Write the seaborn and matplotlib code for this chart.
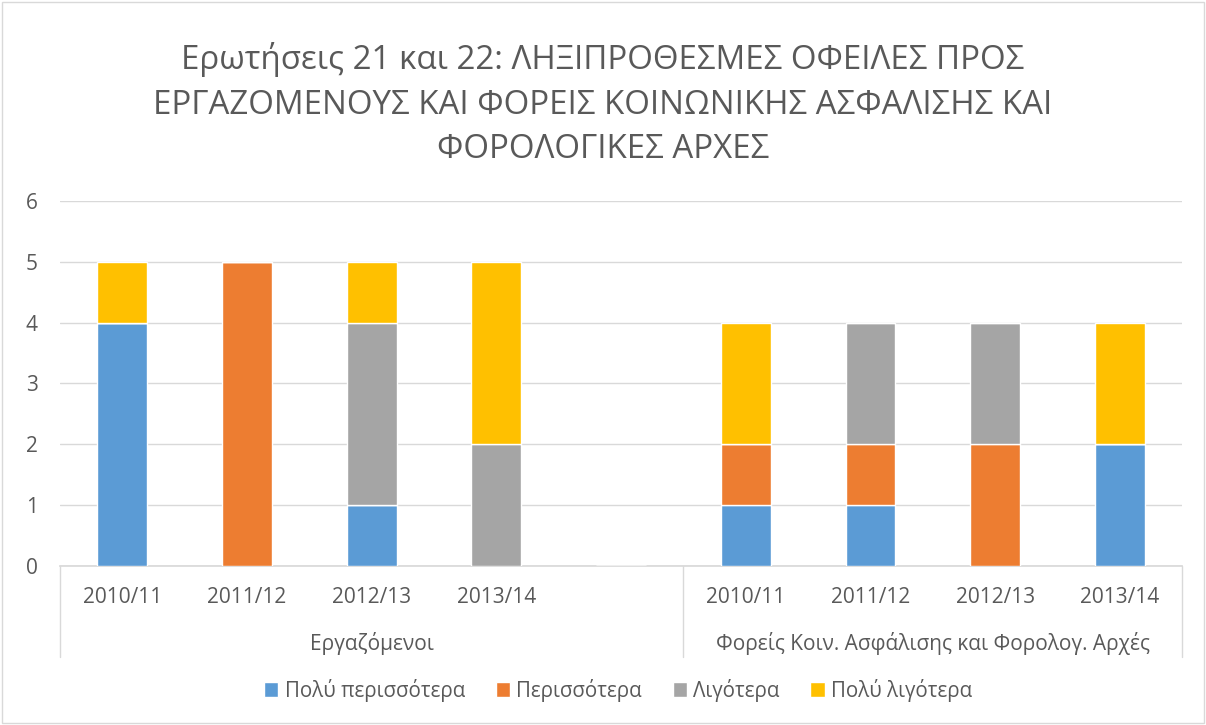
import matplotlib
matplotlib.use('Agg')
import matplotlib.pyplot as plt
import numpy as np
import seaborn as sns
from matplotlib.patches import Rectangle

# data
years = ['2010/11', '2011/12', '2012/13', '2013/14', '',
         '2010/11', '2011/12', '2012/13', '2013/14']
groups = ['Εργαζόμενοι', 'Φορείς Κοιν. Ασφάλισης και Φορολογ. Αρχές']
group_sizes = [5, 4]
series = ['Πολύ περισσότερα', 'Περισσότερα', 'Λιγότερα', 'Πολύ λιγότερα']
poly_perissotera = [4, 0, 1, 0, 0, 1, 1, 0, 2]
perissotera = [0, 5, 0, 0, 0, 1, 1, 2, 0]
ligotera = [0, 0, 3, 2, 0, 0, 2, 2, 0]
poly_ligotera = [1, 0, 1, 3, 0, 2, 0, 0, 2]
colors = ['#5B9BD5', '#ED7D31', '#A5A5A5', '#FFC000']

sns.set_theme(style='white')
plt.rcParams['font.family'] = ['Open Sans', 'DejaVu Sans']
txt = '#595959'
grid = '#D9D9D9'

fig = plt.figure(figsize=(12.06, 7.25), dpi=100)
ax = fig.add_axes([0.0498, 0.2193, 0.9304, 0.5035])

x = np.arange(len(years))
bottom = np.zeros(len(years))
for name, vals, c in zip(series, [poly_perissotera, perissotera, ligotera, poly_ligotera], colors):
    ax.bar(x, vals, 0.4, bottom=bottom, color=c, label=name, zorder=3)
    bottom += np.array(vals)

ax.set_xlim(-0.5, len(years) - 0.5)
ax.set_ylim(0, 6)
ax.set_yticks(range(7))
ax.yaxis.grid(True, color=grid, lw=1, zorder=0)
for s in ['top', 'right', 'left']:
    ax.spines[s].set_visible(False)
ax.spines['bottom'].set_color(grid)
ax.tick_params(axis='y', length=0, labelsize=15, colors=txt, pad=16)
ax.set_xticks(x)
ax.set_xticklabels(years)
ax.tick_params(axis='x', length=0, labelsize=15, colors=txt, pad=15)

# group labels and separators under the axis
edges = np.concatenate([[0], np.cumsum(group_sizes)]) - 0.5
trans = ax.get_xaxis_transform()
for e in edges:
    ax.plot([e, e], [0, -0.25], transform=trans, color=grid, lw=1, clip_on=False)
for g, a, b in zip(groups, edges[:-1], edges[1:]):
    ax.text((a + b) / 2, -0.211, g, transform=trans, ha='center', va='center',
            fontsize=15, color=txt)

fig.text(0.5, 0.856, 'Ερωτήσεις 21 και 22: ΛΗΞΙΠΡΟΘΕΣΜΕΣ ΟΦΕΙΛΕΣ ΠΡΟΣ\n'
         'ΕΡΓΑΖΟΜΕΝΟΥΣ ΚΑΙ ΦΟΡΕΙΣ ΚΟΙΝΩΝΙΚΗΣ ΑΣΦΑΛΙΣΗΣ ΚΑΙ\n'
         'ΦΟΡΟΛΟΓΙΚΕΣ ΑΡΧΕΣ', ha='center', va='center', fontsize=23.8,
         color=txt, linespacing=1.46)

ax.legend(loc='center', bbox_to_anchor=(0.5125, 0.048), bbox_transform=fig.transFigure,
          ncol=4, frameon=False, fontsize=14.8, labelcolor=txt, handlelength=0.7,
          handleheight=0.7, handletextpad=0.3, columnspacing=1.5)

fig.patches.append(Rectangle((0.002, 0.003), 0.996, 0.994, transform=fig.transFigure,
                             fill=False, edgecolor=grid, lw=1))

fig.savefig('out.png', dpi=100)
